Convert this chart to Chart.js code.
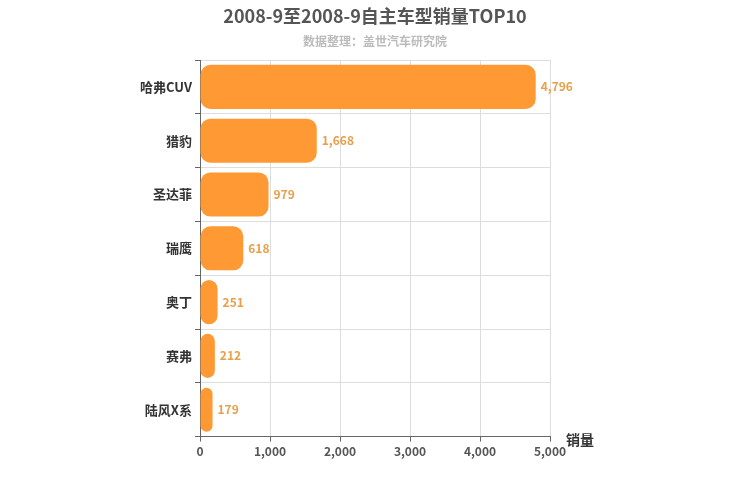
<!DOCTYPE html>
<html>
<head>
<meta charset="utf-8">
<script src="https://cdn.jsdelivr.net/npm/chart.js@4"></script>
<style>body{margin:0}</style>
</head>
<body>
<canvas id="c" width="750" height="500"></canvas>
<script>
const categories = ['哈弗CUV', '猎豹', '圣达菲', '瑞鹰', '奥丁', '赛弗', '陆风X系'];
const sales = [4796, 1668, 979, 618, 251, 212, 179];
const xTicks = [0, 1000, 2000, 3000, 4000, 5000];

const FONT = '"Noto Sans CJK SC", "DejaVu Sans", sans-serif';

const extras = {
    id: 'extras',
    afterDatasetsDraw(chart) {
        const ctx = chart.ctx;
        const meta = chart.getDatasetMeta(0);
        ctx.save();
        ctx.font = 'bold 12px ' + FONT;
        ctx.fillStyle = '#E8A04A';
        ctx.textBaseline = 'middle';
        meta.data.forEach((bar, i) => {
            ctx.fillText(sales[i].toLocaleString('en-US'), bar.x + 5, bar.y);
        });
        ctx.textAlign = 'center';
        ctx.fillStyle = '#555';
        ctx.font = 'bold 18px ' + FONT;
        ctx.fillText('2008-9至2008-9自主车型销量TOP10', 375, 16);
        ctx.fillStyle = '#bbb';
        ctx.font = 'bold 12px ' + FONT;
        ctx.fillText('数据整理：盖世汽车研究院', 375, 41);
        ctx.fillStyle = '#333';
        ctx.font = 'bold 14px ' + FONT;
        ctx.fillText('销量', 580, 440);
        ctx.restore();
    }
};

new Chart(document.getElementById('c'), {
    type: 'bar',
    data: {
        labels: categories,
        datasets: [{
            data: sales,
            backgroundColor: '#FF9933',
            borderRadius: 10,
            borderSkipped: false,
            barPercentage: 0.82,
            categoryPercentage: 1
        }]
    },
    options: {
        indexAxis: 'y',
        responsive: false,
        animation: false,
        layout: { padding: { top: 60, right: 200, bottom: 38, left: 0 } },
        plugins: { legend: { display: false }, tooltip: { enabled: false } },
        scales: {
            x: {
                min: 0, max: 5000,
                afterBuildTicks: s => { s.ticks = xTicks.map(v => ({ value: v })); },
                grid: { color: '#ddd', tickColor: '#666', tickLength: 5 },
                border: { color: '#666' },
                ticks: { color: '#555', font: { family: FONT, size: 12, weight: 'bold' },
                         callback: v => v.toLocaleString('en-US') }
            },
            y: {
                afterFit: s => { s.width = 200; },
                grid: { color: '#ddd', tickColor: '#666', tickLength: 5, offset: true },
                border: { color: '#666' },
                ticks: { color: '#333', font: { family: FONT, size: 13, weight: 'bold' } }
            }
        }
    },
    plugins: [extras]
});
</script>
</body>
</html>
